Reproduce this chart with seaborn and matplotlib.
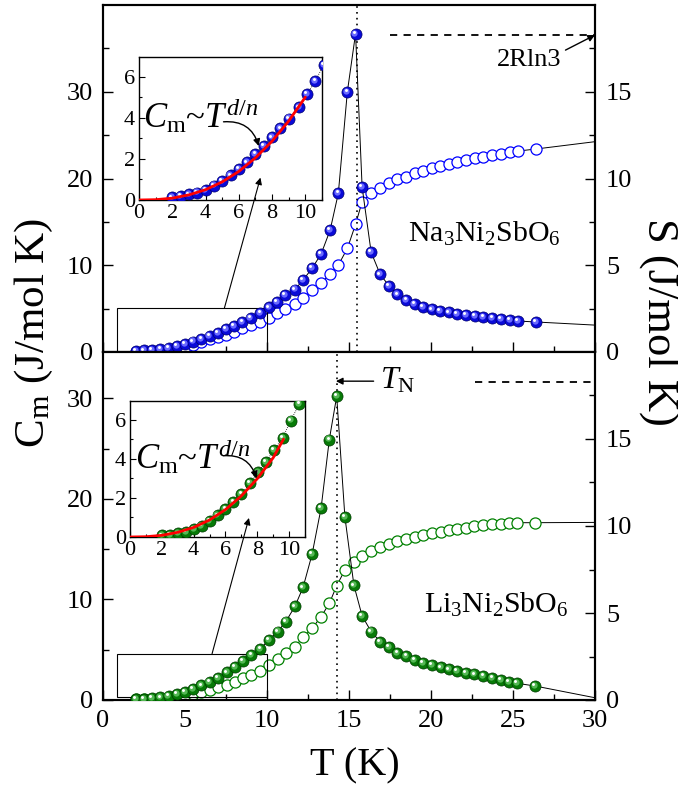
import numpy as np
import pandas as pd
import seaborn as sns
import matplotlib
matplotlib.use("Agg")
import matplotlib.pyplot as plt
from matplotlib import transforms
from matplotlib.patches import Rectangle
from matplotlib.ticker import MultipleLocator, FixedLocator

# ---------------- data ----------------
# Na3Ni2SbO6 (top panel); last entry is the off-scale continuation of the line
T_na = [2.0, 2.5, 3.0, 3.5, 4.0, 4.5, 5.0, 5.5, 6.0, 6.5, 7.0, 7.5, 8.0, 8.5, 9.0,
        9.6, 10.1, 10.6, 11.1, 11.7, 12.2, 12.75, 13.3, 13.85, 14.35, 14.9, 15.4,
        15.8, 16.35, 16.9, 17.45, 17.95, 18.5, 19.0, 19.5, 20.05, 20.55, 21.1, 21.6,
        22.15, 22.7, 23.2, 23.75, 24.25, 24.8, 25.3, 26.4, 31.0]
Cm_na = [0.13, 0.19, 0.27, 0.36, 0.49, 0.70, 0.94, 1.20, 1.50, 1.83, 2.23, 2.64, 3.04, 3.48, 3.96,
         4.50, 5.15, 5.80, 6.55, 7.20, 8.30, 9.65, 11.3, 14.05, 18.3, 30.0, 36.7,
         19.0, 11.5, 8.95, 7.6, 6.65, 6.0, 5.53, 5.22, 4.92, 4.73, 4.57, 4.42,
         4.27, 4.15, 4.03, 3.92, 3.80, 3.69, 3.57, 3.46, 3.0]
S_na = [0.02, 0.02, 0.06, 0.08, 0.12, 0.21, 0.31, 0.40, 0.60, 0.73, 0.85, 0.98, 1.17, 1.37, 1.56,
        1.75, 1.94, 2.23, 2.46, 2.77, 3.13, 3.57, 3.96, 4.50, 5.01, 5.97, 7.36,
        8.66, 9.15, 9.47, 9.72, 9.95, 10.1, 10.3, 10.45, 10.59, 10.72, 10.84, 10.97,
        11.07, 11.16, 11.26, 11.35, 11.43, 11.51, 11.58, 11.70, 12.24]
TN_na = 15.47

# Li3Ni2SbO6 (bottom panel)
T_li = [2.0, 2.5, 3.0, 3.5, 4.0, 4.5, 5.0, 5.5, 6.0, 6.5, 7.0,
        7.55, 8.05, 8.55, 9.05, 9.6, 10.1, 10.65, 11.15, 11.7, 12.2, 12.75, 13.3, 13.8, 14.25,
        14.75, 15.3, 15.8, 16.35, 16.9, 17.45, 17.95, 18.5, 19.0, 19.5, 20.05, 20.6, 21.1,
        21.6, 22.15, 22.65, 23.2, 23.75, 24.25, 24.75, 25.25, 26.35, 30.7]
Cm_li = [0.08, 0.12, 0.18, 0.26, 0.40, 0.57, 0.83, 1.10, 1.45, 1.80, 2.20,
         2.75, 3.30, 3.85, 4.45, 5.07, 5.95, 6.80, 7.80, 9.30, 11.2, 14.5, 19.1, 25.9, 30.2,
         18.2, 11.4, 8.36, 6.80, 5.80, 5.30, 4.71, 4.38, 3.98, 3.71, 3.48, 3.25, 3.05,
         2.89, 2.72, 2.55, 2.39, 2.16, 1.99, 1.82, 1.66, 1.39, 0.0]
S_li = [0.04, 0.04, 0.06, 0.08, 0.10, 0.15, 0.23, 0.34, 0.48, 0.57, 0.73,
        0.86, 1.05, 1.25, 1.44, 1.69, 2.01, 2.34, 2.68, 3.07, 3.60, 4.12, 4.79, 5.55, 6.57,
        7.47, 7.95, 8.28, 8.56, 8.77, 8.97, 9.14, 9.25, 9.39, 9.48, 9.58, 9.67, 9.77,
        9.83, 9.90, 9.98, 10.06, 10.10, 10.13, 10.15, 10.19, 10.19, 10.21]
TN_li = 14.28

# power-law fit curves shown in the insets
fitT_na = [0, 1, 2, 3, 4, 5, 6, 7, 8, 9, 10.0]
fitC_na = [0, 0.016, 0.09, 0.25, 0.50, 0.88, 1.39, 2.05, 2.86, 3.84, 5.0]
fitT_li = [0, 1, 2, 3, 4, 5, 6, 7, 8, 9, 9.65]
fitC_li = [0, 0.015, 0.085, 0.24, 0.49, 0.87, 1.40, 2.10, 2.98, 4.05, 5.0]

S_limit = 18.27   # 2R ln3

# ---------------- style ----------------
sns.set_theme(style="ticks")
plt.rcParams.update({
    "font.family": "serif",
    "font.serif": ["Liberation Serif", "DejaVu Serif"],
    "mathtext.fontset": "custom",
    "mathtext.rm": "Liberation Serif",
    "mathtext.it": "Liberation Serif:italic",
    "mathtext.bf": "Liberation Serif:bold",
    "axes.linewidth": 1.5,
    "axes.edgecolor": "black",
    "text.color": "black",
    "xtick.color": "black",
    "ytick.color": "black",
})

fig = plt.figure(figsize=(6.78, 7.94), dpi=100)

W, H = 678.0, 794.0
def frect(x0, y0, x1, y1):
    return [x0 / W, 1 - y1 / H, (x1 - x0) / W, (y1 - y0) / H]

BALL_S = 64


def balls(ax, x, y, base, edge, mid, s=BALL_S, z=3):
    sns.scatterplot(x=x, y=y, ax=ax, s=s, color=base, edgecolor=edge,
                    linewidth=0.5, zorder=z, legend=False)
    t1 = transforms.offset_copy(ax.transData, fig=fig, x=-0.8, y=0.8, units="points")
    ax.scatter(x, y, s=s * 0.32, color=mid, linewidths=0, transform=t1, zorder=z + 0.1)
    t2 = transforms.offset_copy(ax.transData, fig=fig, x=-1.3, y=1.3, units="points")
    ax.scatter(x, y, s=s * 0.07, color="white", linewidths=0, transform=t2, zorder=z + 0.2)


def panel(rect, T, Cm, S, cmax, base, edge, mid, ocol, TN, show_xlabels):
    axS = fig.add_axes(rect)
    axC = axS.twinx()
    axS.yaxis.tick_right()
    axS.yaxis.set_label_position("right")
    axC.yaxis.tick_left()
    axC.yaxis.set_label_position("left")

    # entropy (open circles)
    sns.lineplot(x=T, y=S, ax=axS, color="black", lw=0.7, sort=False,
                 estimator=None, zorder=2)
    sns.scatterplot(x=T, y=S, ax=axS, s=BALL_S, facecolor="white", edgecolor=ocol,
                    linewidth=0.9, zorder=3, legend=False)
    # heat capacity (balls)
    sns.lineplot(x=T, y=Cm, ax=axC, color="black", lw=0.7, sort=False,
                 estimator=None, zorder=2)
    balls(axC, T, Cm, base, edge, mid)

    axS.set_xlim(0, 30)
    axS.set_ylim(0, 20)
    axC.set_ylim(0, cmax)
    for a in (axS, axC):
        a.set_xlabel("")
        a.set_ylabel("")
        for sp in a.spines.values():
            sp.set_linewidth(1.5)
            sp.set_color("black")

    axS.xaxis.set_major_locator(MultipleLocator(5))
    axS.xaxis.set_minor_locator(MultipleLocator(2.5))
    axS.yaxis.set_major_locator(FixedLocator([0, 5, 10, 15]))
    axS.yaxis.set_minor_locator(FixedLocator([2.5, 7.5, 12.5, 17.5]))
    axC.yaxis.set_major_locator(FixedLocator([0, 10, 20, 30]))
    axC.yaxis.set_minor_locator(FixedLocator([5, 15, 25, 35]))

    axS.tick_params(axis="x", which="both", direction="in", top=False, bottom=True,
                    labelbottom=show_xlabels, labelsize=19, pad=7, width=1.0)
    axS.tick_params(axis="x", which="major", length=7)
    axS.tick_params(axis="x", which="minor", length=4)
    axS.tick_params(axis="y", which="both", direction="in", left=False, right=True,
                    labelleft=False, labelright=True, labelsize=19, pad=8, width=1.0)
    axS.tick_params(axis="y", which="major", length=7)
    axS.tick_params(axis="y", which="minor", length=4)
    axC.tick_params(axis="y", which="both", direction="in", left=True, right=False,
                    labelleft=True, labelright=False, labelsize=19, pad=7, width=1.0)
    axC.tick_params(axis="y", which="major", length=7)
    axC.tick_params(axis="y", which="minor", length=4)

    axC.axvline(TN, color="black", lw=1.2, ls=(0, (1, 2.5)), zorder=1)
    return axS, axC


def inset(rect, T, Cm, base, edge, mid, fitT, fitC, xmax, textpos, arr_from, arr_to):
    ins = fig.add_axes(rect)
    ins.set_zorder(5)
    ins.set_facecolor("white")
    sns.lineplot(x=T, y=Cm, ax=ins, color="black", lw=0.6, ls=(0, (1, 1.5)),
                 sort=False, estimator=None, zorder=2)
    balls(ins, T, Cm, base, edge, mid)
    sns.lineplot(x=fitT, y=fitC, ax=ins, color="#ff0000", lw=2.0, sort=False,
                 estimator=None, zorder=6)
    ins.set_xlim(0, xmax)
    ins.set_ylim(0, 6.95)
    ins.set_xlabel("")
    ins.set_ylabel("")
    ins.xaxis.set_major_locator(MultipleLocator(2))
    ins.xaxis.set_minor_locator(MultipleLocator(1))
    ins.yaxis.set_major_locator(MultipleLocator(2))
    ins.yaxis.set_minor_locator(MultipleLocator(1))
    ins.tick_params(which="both", direction="in", top=False, right=False,
                    labelsize=16, pad=3, width=0.8)
    ins.tick_params(which="major", length=4)
    ins.tick_params(which="minor", length=2)
    for sp in ins.spines.values():
        sp.set_linewidth(1.0)
        sp.set_color("black")
    ins.text(textpos[0], textpos[1], r"$C_{\mathrm{m}}$~$T^{d/n}$", fontsize=25,
             ha="left", va="baseline", zorder=7)
    ins.annotate("", xy=arr_to, xytext=arr_from,
                 arrowprops=dict(arrowstyle="-|>", connectionstyle="arc3,rad=-0.4",
                                 lw=1.0, color="black", shrinkA=0, shrinkB=0,
                                 mutation_scale=10), zorder=8)
    return ins


# ---------------- top panel ----------------
axS1, axC1 = panel(frect(103, 5, 595, 352), T_na, Cm_na, S_na, 40,
                   "#0a0ad8", "#00006e", "#6a6aff", "#0000ff", TN_na, False)
axS1.plot([17.5, 30], [S_limit, S_limit], color="black", lw=1.3, ls=(0, (4, 3.5)))
axS1.text(24.0, 16.5, "2Rln3", fontsize=19, ha="left", va="baseline")
axS1.annotate("", xy=(30, S_limit), xytext=(28.2, 17.4),
              arrowprops=dict(arrowstyle="-|>", lw=1.0, color="black", shrinkA=0,
                              shrinkB=0, mutation_scale=10), annotation_clip=False)
axC1.text(18.6, 12.7, r"Na$_3$Ni$_2$SbO$_6$", fontsize=21.5, ha="left", va="baseline")
axC1.add_patch(Rectangle((0.85, 0), 10.0 - 0.85, 5.05, fill=False, lw=0.8,
                         ec="black", zorder=1))

ins1 = inset(frect(139, 57, 322, 200), T_na, Cm_na, "#0a0ad8", "#00006e", "#6a6aff",
             fitT_na, fitC_na, 11.0, (0.25, 3.5), (5.08, 3.8), (7.2, 2.62))
ins1.annotate("", xy=(9.6, 20.1), xycoords=axC1.transData, xytext=(7.4, 5.05),
              textcoords=axC1.transData, annotation_clip=False,
              arrowprops=dict(arrowstyle="-|>", lw=0.8, color="black", shrinkA=0,
                              shrinkB=0, mutation_scale=10))

# ---------------- bottom panel ----------------
axS2, axC2 = panel(frect(103, 352, 595, 700), T_li, Cm_li, S_li, 34.6,
                   "#077a07", "#003a00", "#55b855", "#008000", TN_li, True)
axS2.plot([22.7, 30], [S_limit, S_limit], color="black", lw=1.3, ls=(0, (4, 3.5)))
axC2.annotate("", xy=(14.2, 31.7), xytext=(16.5, 31.7),
              arrowprops=dict(arrowstyle="-|>", lw=1.0, color="black", shrinkA=0,
                              shrinkB=0, mutation_scale=10))
axC2.text(16.9, 31.0, r"$T_{\mathrm{N}}$", fontsize=23, ha="left", va="baseline")
axC2.text(19.6, 8.66, r"Li$_3$Ni$_2$SbO$_6$", fontsize=21.5, ha="left", va="baseline")
axC2.add_patch(Rectangle((0.85, 0.3), 10.0 - 0.85, 4.6 - 0.3, fill=False, lw=0.8,
                         ec="black", zorder=1))

ins2 = inset(frect(130, 401, 305, 537), T_li, Cm_li, "#077a07", "#003a00", "#55b855",
             fitT_li, fitC_li, 11.0, (0.3, 3.47), (5.85, 4.15), (7.95, 3.0))
ins2.annotate("", xy=(8.9, 18.1), xycoords=axC2.transData, xytext=(6.65, 4.6),
              textcoords=axC2.transData, annotation_clip=False,
              arrowprops=dict(arrowstyle="-|>", lw=0.8, color="black", shrinkA=0,
                              shrinkB=0, mutation_scale=10))

# ---------------- axis titles ----------------
fig.text(0.050, 0.581, r"C$_{\mathrm{m}}$ (J/mol K)", fontsize=31, rotation=90,
         ha="center", va="center")
fig.text(0.972, 0.594, "S (J/mol K)", fontsize=32, rotation=-90,
         ha="center", va="center")
fig.text(0.523, 0.036, "T (K)", fontsize=29, ha="center", va="center")

fig.savefig("out.png", dpi=100)
